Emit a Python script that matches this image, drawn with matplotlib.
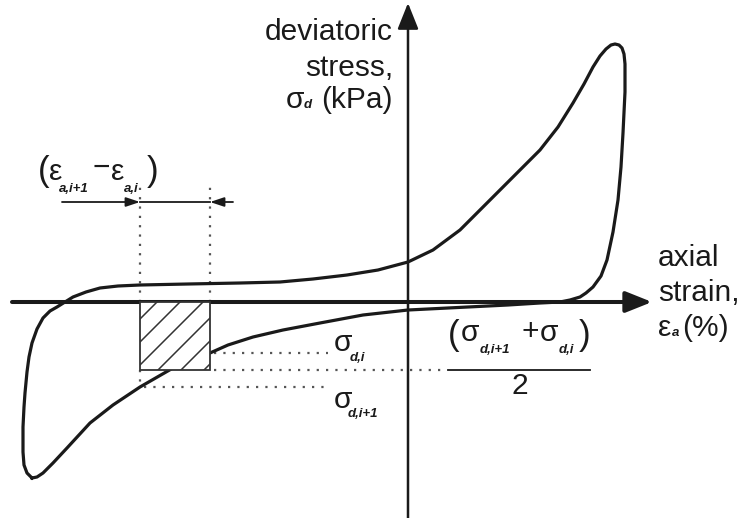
import matplotlib.pyplot as plt

plt.rcParams['font.family'] = ['Liberation Sans', 'DejaVu Sans']

# hysteresis loop, strain vs deviatoric stress (origin at the axes crossing)
strain = [-376, -381, -384, -385, -385, -384, -383, -381, -379, -376, -371, -365,
          -358, -351, -343, -335, -322, -308, -290, -268, -220, -168, -128, -95,
          -61, -30, 0, 25, 52, 90, 132, 150, 165, 176, 185, 192, 198, 203, 207,
          211, 214, 216, 217, 217, 215, 213, 210, 205, 199, 193, 185, 178, 172,
          162, 152, 132, 100, 60, 0, -45, -88, -125, -155, -180, -198, -215,
          -235, -268, -295, -318, -341, -355, -365, -371, -376]
stress = [-176, -171, -163, -150, -125, -105, -91, -70, -55, -41, -27, -16,
          -9, -5, 0, 5, 10, 14, 16, 17, 18, 19, 20, 23,
          27, 32, 40, 52, 72, 110, 152, 175, 199, 218, 235, 246, 253, 257, 258,
          257, 254, 248, 238, 210, 169, 135, 102, 70, 42, 26, 15, 9, 5,
          2, 0, -1, -3, -5, -8, -13, -21, -28, -35, -43, -51, -58,
          -66, -85, -103, -121, -146, -161, -171, -175, -176]

# one strain increment on the unloading branch
eps_i1, eps_i = -268, -198
sig_i1, sig_i = -85, -51
sig_mid = (sig_i1 + sig_i) / 2

ink = '#1a1a1a'
dots = dict(color='#555555', lw=1.6, linestyle=(0, (1, 3.2)))

fig = plt.figure(figsize=(7.39, 5.18), dpi=100)
ax = fig.add_axes([0, 0, 1, 1])
ax.set_xlim(-408, 331)
ax.set_ylim(-216, 302)
ax.axis('off')

# axes with arrow heads
ax.annotate('', xy=(244, 0), xytext=(-396, 0),
            arrowprops=dict(arrowstyle='-|>,head_length=0.8,head_width=0.32',
                            lw=2.9, color=ink, mutation_scale=20,
                            shrinkA=0, shrinkB=0))
ax.plot([-396, 222], [0, 0], color='#8a8a8a', lw=0.9, zorder=2.5)
ax.annotate('', xy=(0, 299), xytext=(0, -216),
            arrowprops=dict(arrowstyle='-|>,head_length=0.8,head_width=0.32',
                            lw=1.8, color=ink, mutation_scale=20,
                            shrinkA=0, shrinkB=0))

ax.plot(strain, stress, color=ink, lw=2.3, solid_joinstyle='round', zorder=3)

# hatched area of the increment
box = plt.Rectangle((eps_i1, sig_mid), eps_i - eps_i1, -sig_mid,
                    facecolor='white', edgecolor='#333333', lw=1.3, zorder=4)
ax.add_patch(box)
for off in range(-51, 80, 23):
    h, = ax.plot([eps_i1 + off, eps_i1 + off + 90], [sig_mid, sig_mid + 90],
                 color='#333333', lw=1.1, zorder=4.5)
    h.set_clip_path(box)

# dotted guides
ax.plot([eps_i1, eps_i1], [0, 119], **dots)
ax.plot([eps_i, eps_i], [0, 119], **dots)
ax.plot([eps_i1, eps_i1], [sig_mid, sig_i1], **dots)
ax.plot([eps_i + 4, -80], [sig_i, sig_i], **dots)
ax.plot([eps_i1 + 4, -80], [sig_i1, sig_i1], **dots)
ax.plot([eps_i + 4, 37], [sig_mid, sig_mid], **dots)

# strain increment arrows
arr = dict(arrowstyle='-|>,head_length=0.6,head_width=0.2', lw=1.3,
           color=ink, mutation_scale=14, shrinkA=0, shrinkB=0)
ax.annotate('', xy=(eps_i1, 100), xytext=(-346, 100), arrowprops=arr)
ax.annotate('', xy=(eps_i, 100), xytext=(-175, 100), arrowprops=arr)
ax.plot([eps_i1, eps_i], [100, 100], color=ink, lw=1.3)

big = 21.5
sub = dict(fontsize=9.5, style='italic', weight='bold', color=ink, va='center')
txt = dict(fontsize=big, color=ink, va='center')

# y axis title
ax.text(-15, 270, 'deviatoric', ha='right', **txt)
ax.text(-15, 234, 'stress,', ha='right', **txt)
ax.text(-122, 202, 'σ', ha='left', **txt)
ax.text(-104, 197, 'd', ha='left', **sub)
ax.text(-15, 202, '(kPa)', ha='right', **txt)

# x axis title
ax.text(250, 44, 'axial', ha='left', **txt)
ax.text(250, 9, 'strain,', ha='left', **txt)
ax.text(250, -26, 'ε', ha='left', **txt)
ax.text(264, -31, 'a', ha='left', **sub)
ax.text(274, -26, '(%)', ha='left', **txt)

# strain increment label
ax.text(-370, 130, '(', ha='left', fontsize=25, color=ink, va='center')
ax.text(-359, 130, 'ε', ha='left', **txt)
ax.text(-349, 113, 'a,i+1', ha='left', **sub)
ax.text(-307, 134, '−', ha='center', **txt)
ax.text(-297, 130, 'ε', ha='left', **txt)
ax.text(-284, 113, 'a,i', ha='left', **sub)
ax.text(-261, 130, ')', ha='left', fontsize=25, color=ink, va='center')

# stress labels
ax.text(-74, -41, 'σ', ha='left', **txt)
ax.text(-58, -56, 'd,i', ha='left', **sub)
ax.text(-74, -98, 'σ', ha='left', **txt)
ax.text(-60, -112, 'd,i+1', ha='left', **sub)

# average stress
ax.text(40, -33, '(', ha='left', fontsize=25, color=ink, va='center')
ax.text(53, -31, 'σ', ha='left', **txt)
ax.text(72, -48, 'd,i+1', ha='left', **sub)
ax.text(122, -30, '+', ha='center', **txt)
ax.text(132, -31, 'σ', ha='left', **txt)
ax.text(151, -48, 'd,i', ha='left', **sub)
ax.text(171, -33, ')', ha='left', fontsize=25, color=ink, va='center')
ax.plot([40, 182], [sig_mid, sig_mid], color=ink, lw=1.3)
ax.text(112, -84, '2', ha='center', **txt)

fig.savefig('out.png', dpi=100)
